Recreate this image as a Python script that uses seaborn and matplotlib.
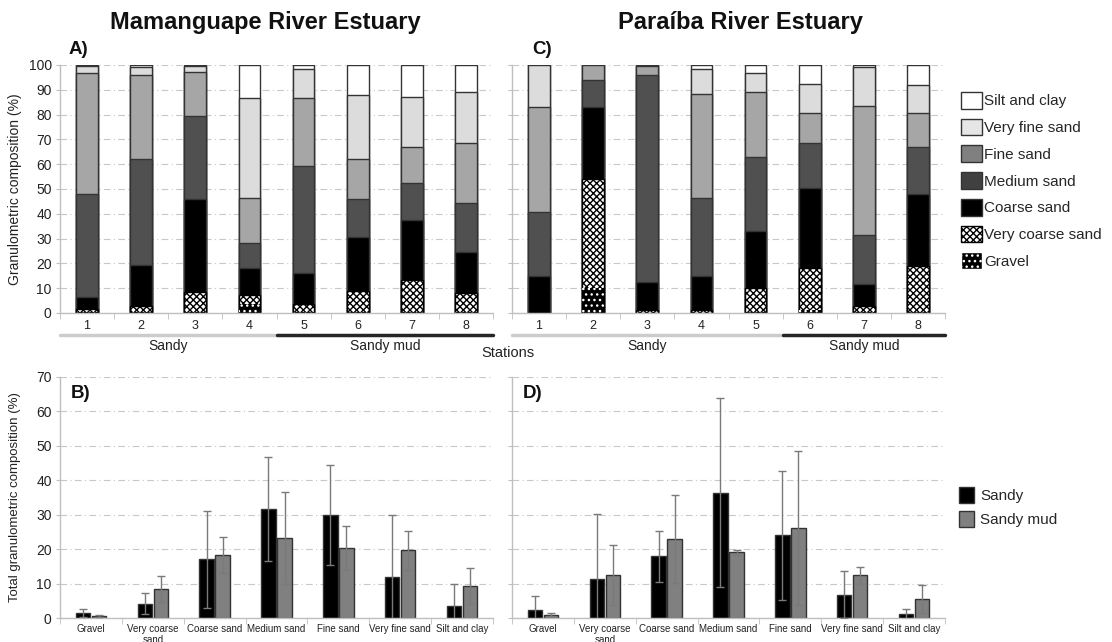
import numpy as np
import pandas as pd
import matplotlib.pyplot as plt
from matplotlib.patches import Patch
import seaborn as sns

# --- Estilo ---
sns.set_style("white")
plt.rcParams['font.family'] = ['Liberation Sans', 'DejaVu Sans']
plt.rcParams['hatch.linewidth'] = 1.0

# --- Datos ---
stations = ['1', '2', '3', '4', '5', '6', '7', '8']
fractions = ['Gravel', 'Very coarse sand', 'Coarse sand', 'Medium sand',
             'Fine sand', 'Very fine sand', 'Silt and clay']
fraction_ticks = ['Gravel', 'Very coarse\nsand', 'Coarse sand', 'Medium sand',
                  'Fine sand', 'Very fine sand', 'Silt and clay']

# composición por estación (%), Mamanguape
mam_gravel = [0.5, 0.5, 0.5, 3.6, 0.3, 0.3, 0.5, 0.3]
mam_very_coarse = [1.0, 2.5, 8.1, 3.8, 3.5, 8.7, 12.7, 7.8]
mam_coarse = [4.8, 16.5, 37.4, 10.6, 12.3, 21.6, 24.1, 16.5]
mam_medium = [41.8, 42.5, 33.6, 10.2, 43.0, 15.4, 15.0, 19.8]
mam_fine = [48.8, 34.0, 17.4, 18.1, 27.5, 16.0, 14.5, 24.1]
mam_very_fine = [2.6, 3.3, 2.5, 40.3, 11.8, 25.9, 20.4, 20.8]
mam_silt = [0.5, 0.7, 0.5, 13.4, 1.6, 12.1, 12.8, 10.7]

# composición por estación (%), Paraíba
par_gravel = [0.0, 10.1, 0.0, 0.0, 0.3, 1.3, 0.5, 0.5]
par_very_coarse = [0.0, 43.9, 1.3, 1.1, 9.8, 16.8, 2.2, 18.3]
par_coarse = [14.8, 29.2, 11.2, 13.7, 22.8, 32.2, 9.0, 29.3]
par_medium = [25.8, 10.8, 83.5, 31.5, 30.2, 18.2, 19.8, 18.7]
par_fine = [42.6, 6.0, 3.6, 42.0, 26.2, 12.3, 52.1, 14.0]
par_very_fine = [16.8, 0.0, 0.2, 10.2, 7.3, 11.4, 15.5, 11.1]
par_silt = [0.0, 0.0, 0.2, 1.5, 3.4, 7.8, 0.9, 8.1]

# medias y desviaciones por tipo de sedimento
mam_sandy_mean = [1.45, 4.2, 17.1, 31.8, 29.9, 11.9, 3.6]
mam_sandy_sd = [1.15, 3.1, 14.1, 15.1, 14.5, 18.0, 6.4]
mam_mud_mean = [0.7, 8.4, 18.3, 23.2, 20.4, 19.7, 9.2]
mam_mud_sd = [0.3, 3.7, 5.2, 13.3, 6.4, 5.7, 5.2]
par_sandy_mean = [2.2, 11.3, 17.9, 36.4, 24.0, 6.8, 1.2]
par_sandy_sd = [4.3, 19.0, 7.3, 27.5, 18.7, 6.9, 1.4]
par_mud_mean = [1.0, 12.5, 22.9, 19.1, 26.1, 12.4, 5.6]
par_mud_sd = [0.4, 8.8, 12.7, 0.7, 22.4, 2.4, 4.1]

# estilos por fracción: (color, hatch, color de borde)
bar_styles = {
    'Gravel': ('#000000', '...', '#ffffff'),
    'Very coarse sand': ('#ffffff', 'xxxxx', '#000000'),
    'Coarse sand': ('#000000', None, '#333333'),
    'Medium sand': ('#505050', None, '#333333'),
    'Fine sand': ('#a6a6a6', None, '#333333'),
    'Very fine sand': ('#dcdcdc', None, '#333333'),
    'Silt and clay': ('#ffffff', None, '#333333'),
}
legend_colors = {
    'Gravel': '#000000', 'Very coarse sand': '#ffffff', 'Coarse sand': '#000000',
    'Medium sand': '#404040', 'Fine sand': '#808080',
    'Very fine sand': '#e6e6e6', 'Silt and clay': '#ffffff',
}

GRID = dict(linestyle=(0, (6, 3, 1, 3)), color='#c8c8c8', linewidth=0.8)
AXCOL = '#bfbfbf'

fig = plt.figure(figsize=(11.12, 6.42), dpi=100)
W, H = 1112, 642


def px_axes(left, top, right, bottom):
    return fig.add_axes([left / W, 1 - bottom / H, (right - left) / W, (bottom - top) / H])


def style_axes(ax, ymax, step, show_ylabels):
    sns.despine(ax=ax)
    for s in ['left', 'bottom']:
        ax.spines[s].set_color(AXCOL)
        ax.spines[s].set_linewidth(1)
    ax.set_ylim(0, ymax)
    ax.set_yticks(np.arange(0, ymax + 1, step))
    ax.yaxis.grid(True, **GRID)
    ax.set_axisbelow(True)
    ax.tick_params(axis='y', left=True, length=3, color=AXCOL, labelsize=10,
                   labelcolor='#222222', labelleft=show_ylabels, pad=3)
    n = len(ax.get_xticks())
    ax.set_xticks(np.arange(-0.5, n, 1), minor=True)
    ax.tick_params(axis='x', which='major', length=0, pad=5)
    ax.tick_params(axis='x', which='minor', bottom=True, length=4, color=AXCOL)
    ax.set_xlim(-0.5, n - 0.5)
    ax.set_xlabel('')
    ax.set_ylabel('')


def stacked_panel(ax, parts, split):
    df = pd.DataFrame({'station': stations})
    cum = np.zeros(len(stations))
    for name, vals in zip(fractions, parts):
        cum = cum + np.array(vals)
        df[name] = cum
    # dibujar de arriba hacia abajo, cada barra tapa la anterior
    for name in reversed(fractions):
        face, hatch, edge = bar_styles[name]
        sns.barplot(data=df, x='station', y=name, color=face, width=0.4,
                    edgecolor=edge, linewidth=0 if name == 'Gravel' else 1,
                    hatch=hatch, saturation=1, ax=ax)
    style_axes(ax, 100, 10, ax is ax_a)
    ax.tick_params(axis='x', labelsize=9, labelcolor='#222222')
    tr = ax.get_xaxis_transform()
    ax.plot([-0.5, split], [-0.09, -0.09], color='#cccccc', lw=2.5, transform=tr, clip_on=False)
    ax.plot([split, 7.5], [-0.09, -0.09], color='#262626', lw=2.5, transform=tr, clip_on=False)
    ax.text((-0.5 + split) / 2, -0.135, 'Sandy', transform=tr, ha='center', va='center',
            fontsize=10, color='#222222')
    ax.text((split + 7.5) / 2, -0.135, 'Sandy mud', transform=tr, ha='center', va='center',
            fontsize=10, color='#222222')


def grouped_panel(ax, sandy_mean, sandy_sd, mud_mean, mud_sd, show_ylabels):
    df = pd.DataFrame({
        'fraction': fractions * 2,
        'group': ['Sandy'] * 7 + ['Sandy mud'] * 7,
        'value': list(sandy_mean) + list(mud_mean),
    })
    sns.barplot(data=df, x='fraction', y='value', hue='group', order=fractions,
                palette={'Sandy': '#000000', 'Sandy mud': '#808080'}, width=0.52,
                gap=0.1, edgecolor='#333333', linewidth=1, errorbar=None,
                saturation=1, legend=False, ax=ax)
    for cont, sd in zip(ax.containers, [sandy_sd, mud_sd]):
        xs = [p.get_x() + p.get_width() / 2 for p in cont.patches]
        ys = [p.get_height() for p in cont.patches]
        ax.errorbar(xs, ys, yerr=sd, fmt='none', ecolor='#7a7a7a', elinewidth=1,
                    capsize=3, capthick=1, zorder=5)
    style_axes(ax, 70, 10, show_ylabels)
    ax.set_xticks(range(7), fraction_ticks)
    ax.tick_params(axis='x', labelsize=7, labelcolor='#222222', pad=4)


ax_a = px_axes(60, 65, 493, 313)
ax_c = px_axes(512, 65, 945, 313)
ax_b = px_axes(60, 377, 493, 618)
ax_d = px_axes(512, 377, 945, 618)

stacked_panel(ax_a, [mam_gravel, mam_very_coarse, mam_coarse, mam_medium,
                     mam_fine, mam_very_fine, mam_silt], 3.5)
stacked_panel(ax_c, [par_gravel, par_very_coarse, par_coarse, par_medium,
                     par_fine, par_very_fine, par_silt], 4.5)
grouped_panel(ax_b, mam_sandy_mean, mam_sandy_sd, mam_mud_mean, mam_mud_sd, True)
grouped_panel(ax_d, par_sandy_mean, par_sandy_sd, par_mud_mean, par_mud_sd, False)

# títulos y etiquetas
fig.text(265 / W, 1 - 22 / H, 'Mamanguape River Estuary', ha='center', va='center',
         fontsize=17, weight='bold', color='#111111')
fig.text(740 / W, 1 - 22 / H, 'Paraíba River Estuary', ha='center', va='center',
         fontsize=17, weight='bold', color='#111111')
for lab, x, y in [('A)', 69, 50), ('C)', 532, 50), ('B)', 71, 393), ('D)', 523, 393)]:
    fig.text(x / W, 1 - y / H, lab, ha='left', va='center', fontsize=13.5, weight='bold',
             color='#111111')

fig.text(15 / W, 1 - 189 / H, 'Granulometric composition (%)', rotation=90,
         ha='center', va='center', fontsize=10, color='#222222')
fig.text(15 / W, 1 - 497 / H, 'Total granulometric composition (%)', rotation=90,
         ha='center', va='center', fontsize=9.5, color='#222222')
fig.text(508 / W, 1 - 353 / H, 'Stations', ha='center', va='center', fontsize=10.5,
         color='#222222')

# leyendas
top_handles = []
for name in reversed(fractions):
    face, hatch, edge = bar_styles[name]
    top_handles.append(Patch(facecolor=legend_colors[name], hatch=hatch,
                             edgecolor='#333333' if hatch is None else edge,
                             linewidth=1, label=name))
fig.legend(handles=top_handles, loc='upper left', bbox_to_anchor=(961 / W, 1 - 92 / H),
           frameon=False, fontsize=11, handlelength=1.35, handleheight=1.3,
           handletextpad=0.15, labelspacing=0.66, borderpad=0, borderaxespad=0)

bottom_handles = [Patch(facecolor='#000000', edgecolor='#333333', label='Sandy'),
                  Patch(facecolor='#808080', edgecolor='#333333', label='Sandy mud')]
fig.legend(handles=bottom_handles, loc='upper left', bbox_to_anchor=(959 / W, 1 - 487 / H),
           frameon=False, fontsize=11, handlelength=1.0, handleheight=1.2,
           handletextpad=0.4, labelspacing=0.55, borderpad=0, borderaxespad=0)

plt.savefig('out.png', dpi=100)
